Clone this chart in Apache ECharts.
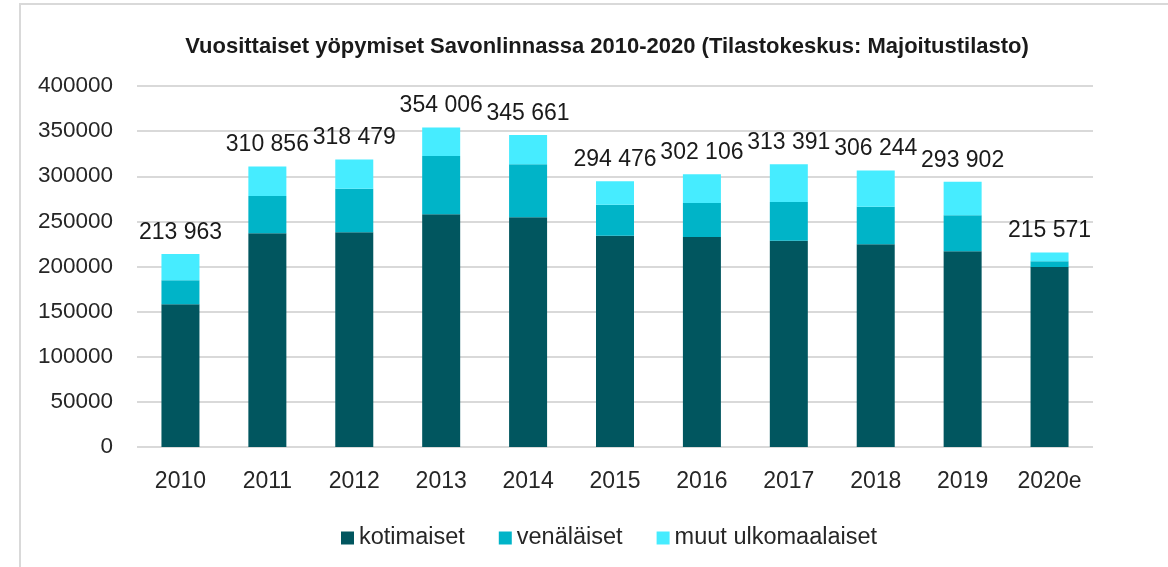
<!DOCTYPE html>
<html>
<head>
<meta charset="utf-8">
<script src="https://cdn.jsdelivr.net/npm/echarts@6/dist/echarts.min.js"></script>
<style>
  html, body { margin: 0; padding: 0; background: #fff; }
  #chart { width: 1168px; height: 567px; }
</style>
</head>
<body>
<div id="chart"></div>
<script>
// vuodet
const years = ['2010', '2011', '2012', '2013', '2014', '2015', '2016', '2017', '2018', '2019', '2020e'];
// yöpymiset, luettu kuvasta
const kotimaiset = [158100, 236800, 237900, 257800, 254500, 234100, 232700, 228600, 224600, 216800, 199400];
const venalaiset = [26600, 41300, 48300, 64600, 58700, 34400, 37700, 42900, 41700, 39900, 6300];
const muut = [29263, 32756, 32279, 31606, 32461, 25976, 31706, 41891, 39944, 37202, 9871];
// yhteensä (datalabelit)
const totals = [213963, 310856, 318479, 354006, 345661, 294476, 302106, 313391, 306244, 293902, 215571];

const FONT = '"Liberation Sans", Arial, sans-serif';

// 213963 -> "213 963"
const fmt = (v) => String(v).replace(/\B(?=(\d{3})+(?!\d))/g, ' ');

const chart = echarts.init(document.getElementById('chart'));

const barBase = {
  type: 'bar',
  stack: 'total',
  barWidth: 38,
  emphasis: { disabled: true }
};

chart.setOption({
  animation: false,
  backgroundColor: '#fff',
  textStyle: { fontFamily: FONT },
  graphic: [{
    type: 'rect',
    shape: { x: 20, y: 4, width: 1300, height: 700 },
    style: { fill: 'none', stroke: '#d9d9d9', lineWidth: 2 },
    silent: true
  }],
  title: {
    text: 'Vuosittaiset yöpymiset Savonlinnassa 2010-2020 (Tilastokeskus: Majoitustilasto)',
    left: 602,
    textAlign: 'center',
    top: 31,
    textStyle: { fontFamily: FONT, fontSize: 22, fontWeight: 'bold', color: '#1a1a1a' }
  },
  legend: {
    data: ['kotimaiset', 'venäläiset', 'muut ulkomaalaiset'],
    left: 336,
    top: 521,
    itemWidth: 13,
    itemHeight: 13,
    itemGap: 34,
    icon: 'rect',
    textStyle: { fontFamily: FONT, fontSize: 23.5, color: '#262626' }
  },
  grid: { left: 137, right: 75, top: 86, bottom: 120, containLabel: false },
  xAxis: {
    type: 'category',
    data: years,
    axisLine: { show: false },
    axisTick: { show: false },
    axisLabel: { margin: 23, fontSize: 23, color: '#262626', fontFamily: FONT }
  },
  yAxis: {
    type: 'value',
    min: 0,
    max: 400000,
    interval: 50000,
    axisLine: { show: false },
    axisTick: { show: false },
    axisLabel: {
      margin: 24,
      fontSize: 22.5,
      color: '#262626',
      fontFamily: FONT,
      formatter: (v) => String(v)
    },
    splitLine: { lineStyle: { color: '#d9d9d9', width: 2 } }
  },
  series: [
    Object.assign({}, barBase, {
      name: 'kotimaiset',
      data: kotimaiset,
      itemStyle: { color: '#01565F' }
    }),
    Object.assign({}, barBase, {
      name: 'venäläiset',
      data: venalaiset,
      itemStyle: { color: '#00B4C8' }
    }),
    Object.assign({}, barBase, {
      name: 'muut ulkomaalaiset',
      data: muut,
      itemStyle: { color: '#46ECFF' },
      label: {
        show: true,
        position: 'top',
        distance: 10,
        fontSize: 23,
        color: '#1a1a1a',
        fontFamily: FONT,
        formatter: (p) => fmt(totals[p.dataIndex])
      }
    })
  ]
});
</script>
</body>
</html>
